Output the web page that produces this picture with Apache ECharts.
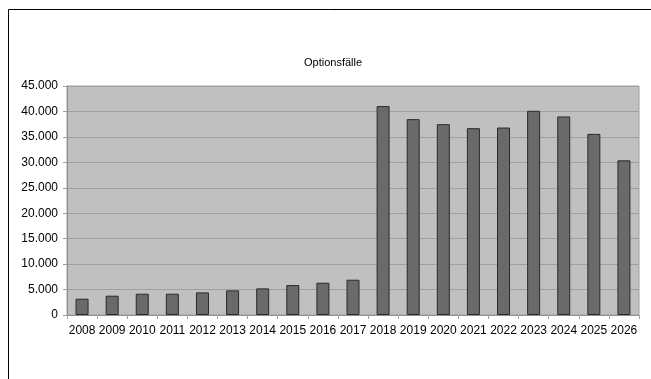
<!DOCTYPE html>
<html><head><meta charset="utf-8">
<script src="https://cdn.jsdelivr.net/npm/echarts@6/dist/echarts.min.js"></script>
<style>html,body{margin:0;padding:0;background:#fff}#c{width:651px;height:379px}</style>
</head><body><div id="c"></div>
<script>
const title = 'Optionsfälle';
const years = ['2008','2009','2010','2011','2012','2013','2014','2015','2016','2017','2018','2019','2020','2021','2022','2023','2024','2025','2026'];
const values = [3200,3790,4180,4180,4440,4840,5230,5880,6340,6930,41050,38490,37500,36710,36840,40130,39010,35590,30390];
const yTicks = [0,5000,10000,15000,20000,25000,30000,35000,40000,45000];

const fmt = v => v === 0 ? '0' : String(v).replace(/\B(?=(\d{3})+(?!\d))/g, '.');
const chart = echarts.init(document.getElementById('c'), null, {renderer:'canvas'});
chart.setOption({
  animation:false,
  title:{text:title, left:299, top:52, padding:5,
    textStyle:{fontFamily:'Liberation Sans', fontSize:11, fontWeight:'normal', color:'#000'}},
  grid:{left:67, right:12, top:86, bottom:64, show:true, backgroundColor:'#c0c0c0', borderColor:'#a0a0a0', borderWidth:1},
  xAxis:{type:'category', data:years,
    axisLine:{lineStyle:{color:'#909090'}},
    axisTick:{show:true, length:4, lineStyle:{color:'#a0a0a0'}},
    axisLabel:{fontFamily:'Liberation Sans', fontSize:12, color:'#000', margin:10, interval:0}},
  yAxis:{type:'value', min:yTicks[0], max:yTicks[yTicks.length-1], interval:5000,
    axisLine:{show:true, lineStyle:{color:'#909090'}},
    axisTick:{show:true, length:4, lineStyle:{color:'#a0a0a0'}},
    splitLine:{lineStyle:{color:'#a0a0a0', width:1}},
    axisLabel:{fontFamily:'Liberation Sans', fontSize:12, color:'#000', margin:9, formatter:fmt}},
  series:[{type:'bar', data:values, barWidth:13,
    itemStyle:{color:'#6a6a6a', borderColor:'#2a2a2a', borderWidth:1}}],
  graphic:[
    {type:'line', shape:{x1:8.5,y1:9.5,x2:651,y2:9.5}, style:{stroke:'#000', lineWidth:1}},
    {type:'line', shape:{x1:8.5,y1:9.5,x2:8.5,y2:379}, style:{stroke:'#000', lineWidth:1}}
  ]
});
</script></body></html>
